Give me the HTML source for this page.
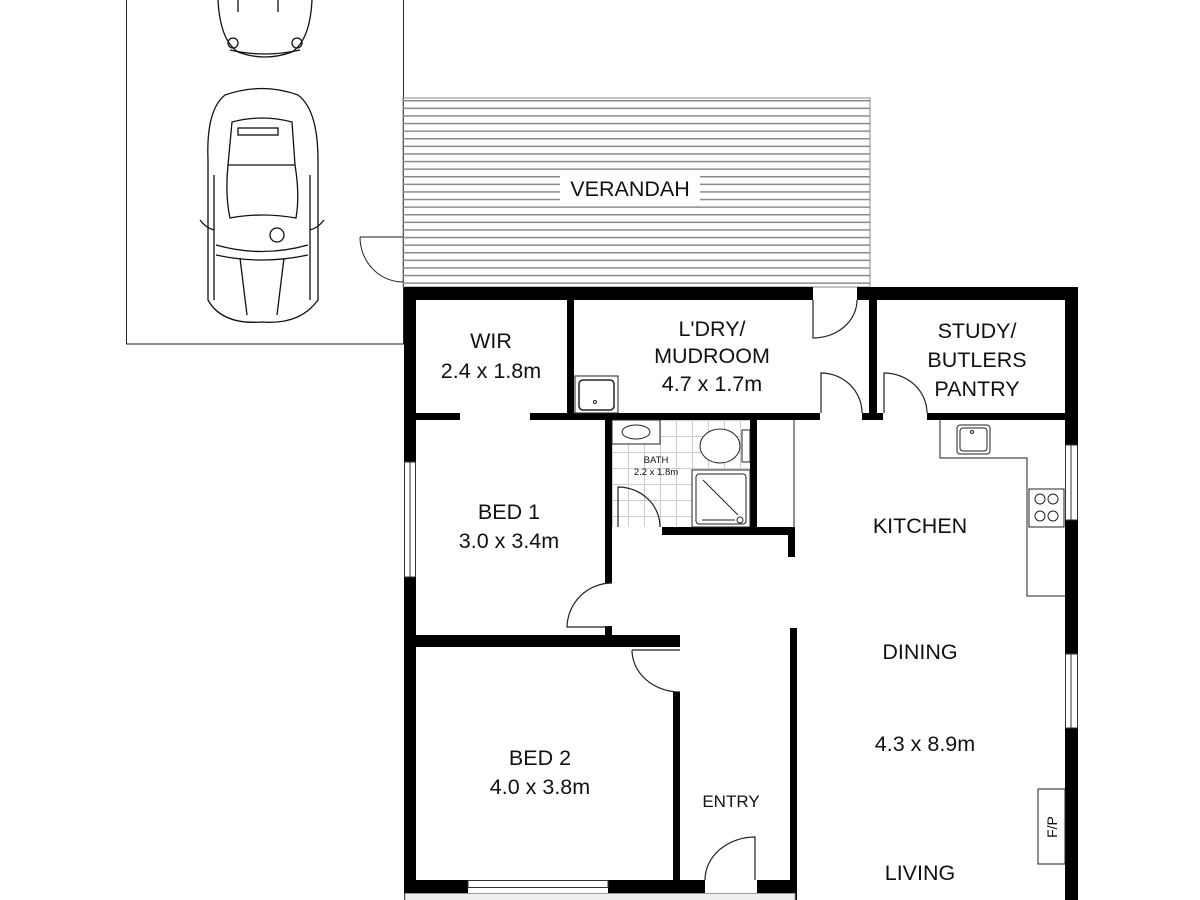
<!DOCTYPE html>
<html><head><meta charset="utf-8"><style>
html,body{margin:0;padding:0;background:#fff;width:1200px;height:900px;overflow:hidden}
svg{display:block}
text{font-family:"Liberation Sans",sans-serif;fill:#111;text-anchor:middle}
</style></head><body>
<svg width="1200" height="900" viewBox="0 0 1200 900" xmlns="http://www.w3.org/2000/svg">
<defs>
<pattern id="ver" x="0" y="100" width="10" height="7.6" patternUnits="userSpaceOnUse">
<line x1="0" y1="0.75" x2="10" y2="0.75" stroke="#8a8a8a" stroke-width="1.5"/>
</pattern>
<pattern id="tile" x="612" y="420" width="16" height="16" patternUnits="userSpaceOnUse">
<path d="M0 0H16M0 0V16" stroke="#ccc" stroke-width="2" fill="none"/>
</pattern>
</defs>
<rect x="126.5" y="-2" width="277" height="346" fill="none" stroke="#222" stroke-width="1"/>
<rect x="403" y="98" width="467" height="189" fill="url(#ver)" stroke="#888" stroke-width="1"/>
<rect x="560" y="174" width="140" height="28" fill="#fff"/>
<text x="630" y="196" font-size="21.5">VERANDAH</text>
<g fill="none" stroke="#222" stroke-width="1">
<path d="M360 237H403M360 237A43 45 0 0 0 403 282"/>
</g>
<g fill="none" stroke="#111" stroke-width="1.3">
<path d="M218 0 Q220 40 238 52 Q265 62 292 52 Q310 40 312 0"/>
<circle cx="233" cy="43" r="5"/><circle cx="297" cy="43" r="5"/>
<path d="M238 0V12M278 0V12"/>
<path d="M230 50Q265 58 300 50"/>
<path d="M225 95Q262 82 298 95Q318 110 318 160V300Q300 325 262 322Q222 325 208 300V160Q206 110 225 95Z"/>
<path d="M232 122Q262 114 292 122L295 165H228Z"/>
<rect x="238" y="128" width="40" height="7"/>
<path d="M228 165Q225 195 230 218Q262 212 296 218Q300 195 295 165"/>
<path d="M216 245Q262 258 308 245M216 255Q262 265 308 255"/>
<circle cx="277" cy="235" r="7"/>
<path d="M240 258L247 315M284 258L277 315"/>
<path d="M200 220Q206 228 214 230M324 220Q318 228 310 230"/>
<path d="M214 175V300M310 175V300"/>
</g>
<rect x="612" y="420" width="138" height="107" fill="url(#tile)"/>
<g fill="#000">
<rect x="404" y="287" width="409" height="13"/>
<rect x="857" y="287" width="221" height="13"/>
<rect x="404" y="287" width="12" height="175"/>
<rect x="404" y="577" width="12" height="323"/>
<rect x="1065" y="287" width="13" height="158"/>
<rect x="1065" y="520" width="13" height="134"/>
<rect x="1065" y="728" width="13" height="172"/>
<rect x="567" y="300" width="7" height="113"/>
<rect x="869" y="300" width="8" height="113"/>
<rect x="416" y="413" width="44" height="7"/>
<rect x="530" y="413" width="290" height="7"/>
<rect x="862" y="413" width="21" height="7"/>
<rect x="927" y="413" width="151" height="7"/>
<rect x="605" y="420" width="7" height="107"/>
<rect x="750" y="420" width="7" height="107"/>
<rect x="662" y="527" width="133" height="8"/>
<rect x="788" y="527" width="7" height="30"/>
<rect x="605" y="527" width="7" height="56"/>
<rect x="605" y="626" width="7" height="10"/>
<rect x="416" y="635" width="264" height="12"/>
<rect x="673" y="692" width="7" height="190"/>
<rect x="790" y="628" width="7" height="272"/>
<rect x="404" y="880" width="64" height="20"/>
<rect x="608" y="880" width="97" height="20"/>
<rect x="757" y="880" width="40" height="20"/>
</g>
<g fill="#fff" stroke="#333" stroke-width="1">
<rect x="404.5" y="462" width="11" height="115"/>
<line x1="410" y1="462" x2="410" y2="577"/>
<rect x="1065.5" y="445" width="12" height="75"/>
<line x1="1071" y1="445" x2="1071" y2="520"/>
<rect x="1065.5" y="654" width="12" height="74"/>
<line x1="1071" y1="654" x2="1071" y2="728"/>
<rect x="468" y="880.5" width="140" height="7"/>
<rect x="405" y="893.5" width="390" height="8" fill="#eee" stroke="#999"/>
</g>
<g fill="none" stroke="#222" stroke-width="1.2">
<path d="M813 300V338A44 38 0 0 0 857 300"/>
<path d="M821 413V373A41 40 0 0 1 862 413"/>
<path d="M884 413V373A43 40 0 0 1 927 413"/>
<path d="M618 527V487A42 40 0 0 1 660 527"/>
<path d="M612 583A45 45 0 0 0 567 627H612"/>
<path d="M632 650H680M632 650A48 42 0 0 0 680 692"/>
<path d="M755 880V837A50 43 0 0 0 705 880"/>
</g>
<g fill="none" stroke="#222" stroke-width="1">
<rect x="575" y="376" width="43" height="37" fill="#fff"/>
<rect x="579" y="380" width="35" height="30" rx="4" stroke-width="1.5"/>
<circle cx="595" cy="402" r="1.5"/>
<rect x="612" y="420" width="48" height="24" fill="#fff"/>
<ellipse cx="636" cy="432" rx="14" ry="7"/>
<rect x="742" y="430" width="8" height="32" fill="#fff"/>
<ellipse cx="720" cy="446" rx="20" ry="17" fill="#fff"/>
<rect x="692" y="470" width="58" height="57" fill="#fff"/>
<rect x="696" y="474" width="50" height="50" rx="3"/>
<path d="M703 480L738 515M702 520H735"/>
<circle cx="740" cy="520" r="3"/>
<path d="M940 420V458H1027V596H1065"/>
<rect x="957" y="425" width="33" height="29" rx="3"/>
<rect x="960" y="428" width="27" height="23" rx="3"/>
<circle cx="972" cy="432" r="1.5"/>
<line x1="794" y1="420" x2="794" y2="527"/>
<rect x="1029" y="489" width="35" height="38"/>
<circle cx="1040" cy="499" r="5"/><circle cx="1053" cy="499" r="5"/>
<circle cx="1040" cy="516" r="5"/><circle cx="1053" cy="516" r="5"/>
<rect x="1038" y="789" width="27" height="75"/>
</g>
<g font-size="21.5">
<text x="491" y="348">WIR</text>
<text x="491" y="378">2.4 x 1.8m</text>
<text x="712" y="336">L'DRY/</text>
<text x="712" y="363">MUDROOM</text>
<text x="712" y="391">4.7 x 1.7m</text>
<text x="977" y="338">STUDY/</text>
<text x="977" y="367">BUTLERS</text>
<text x="977" y="396">PANTRY</text>
<text x="509" y="519">BED 1</text>
<text x="509" y="548">3.0 x 3.4m</text>
<text x="920" y="533">KITCHEN</text>
<text x="920" y="659">DINING</text>
<text x="925" y="751">4.3 x 8.9m</text>
<text x="540" y="765">BED 2</text>
<text x="540" y="794">4.0 x 3.8m</text>
<text x="920" y="880">LIVING</text>
</g>
<text x="731" y="807" font-size="17">ENTRY</text>
<text x="656" y="463" font-size="9.5">BATH</text>
<text x="656" y="475" font-size="9.5">2.2 x 1.8m</text>
<text x="1057" y="827" font-size="14" transform="rotate(-90 1057 827)">F/P</text>
</svg>
</body></html>
